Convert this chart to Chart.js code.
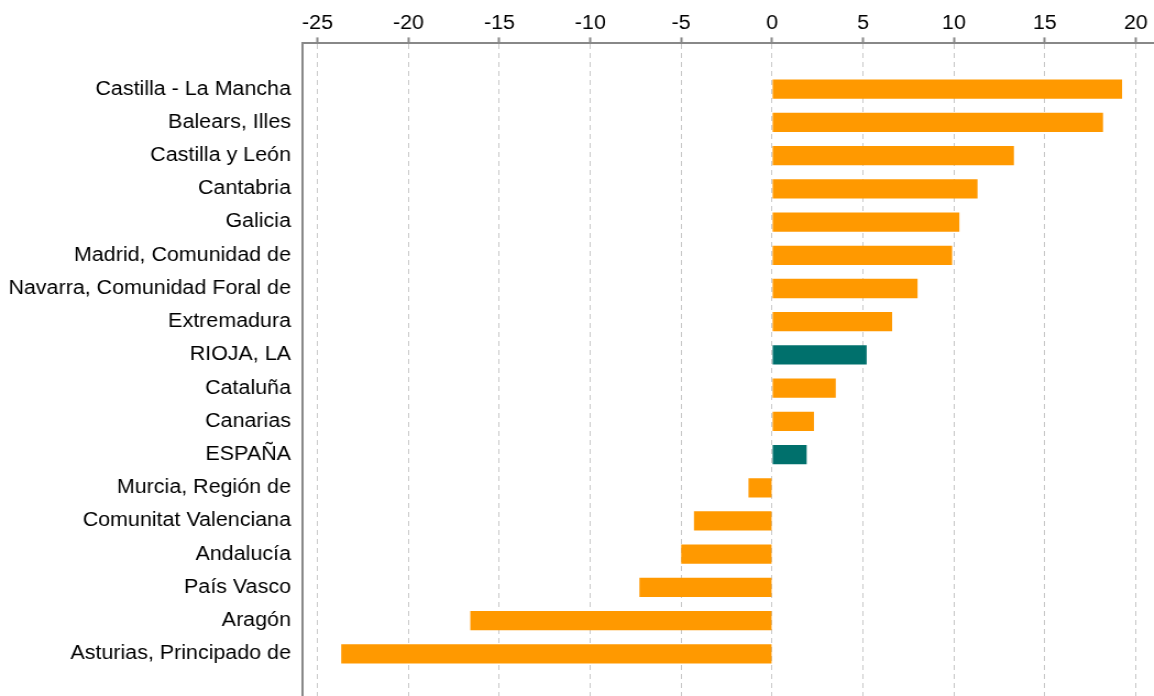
<!DOCTYPE html>
<html>
<head>
<meta charset="utf-8">
<script src="https://cdn.jsdelivr.net/npm/chart.js@4.4.1/dist/chart.umd.min.js"></script>
<style>
  html, body { margin: 0; padding: 0; background: #fff; overflow: hidden; }
  #wrap { position: absolute; left: 0; top: 0; width: 1049px; height: 696px;
          transform: scaleX(1.1); transform-origin: 0 0; }
</style>
</head>
<body>
<div id="wrap"><canvas id="c" width="1049" height="696"></canvas></div>
<script>
const categories = [
  'Castilla - La Mancha', 'Balears, Illes', 'Castilla y León', 'Cantabria', 'Galicia',
  'Madrid, Comunidad de', 'Navarra, Comunidad Foral de', 'Extremadura', 'RIOJA, LA',
  'Cataluña', 'Canarias', 'ESPAÑA', 'Murcia, Región de', 'Comunitat Valenciana',
  'Andalucía', 'País Vasco', 'Aragón', 'Asturias, Principado de'
];
const values = [19.25, 18.2, 13.3, 11.3, 10.3, 9.9, 8.0, 6.6, 5.2, 3.5, 2.3, 1.9, -1.3, -4.3, -5.0, -7.3, -16.6, -23.7];
const highlighted = ['RIOJA, LA', 'ESPAÑA'];
const xTickValues = [-25, -20, -15, -10, -5, 0, 5, 10, 15, 20];

const ORANGE = '#ff9900';
const TEAL = '#00706c';
const FONT = "'Liberation Sans', Arial, sans-serif";

function noPad(s) { s.paddingTop = 0; s.paddingBottom = 0; s.paddingLeft = 0; s.paddingRight = 0; }

new Chart(document.getElementById('c'), {
  type: 'bar',
  data: {
    datasets: [{
      data: values.map((v, i) => ({ x: v, y: i })),
      backgroundColor: ctx => highlighted.includes(categories[ctx.dataIndex]) ? TEAL : ORANGE,
      borderWidth: 0,
      barPercentage: 0.58,
      categoryPercentage: 1.0
    }]
  },
  options: {
    indexAxis: 'y',
    responsive: false,
    animation: false,
    devicePixelRatio: 1,
    layout: { padding: { top: 10, right: 0, bottom: 0, left: 0 } },
    plugins: { legend: { display: false }, tooltip: { enabled: false } },
    scales: {
      x: {
        type: 'linear',
        position: 'top',
        min: -25.86,
        max: 21.0,
        offset: false,
        afterBuildTicks: s => { s.ticks = xTickValues.map(v => ({ value: v })); },
        afterFit: noPad,
        ticks: {
          color: '#000',
          font: { family: FONT, size: 19.5 },
          padding: 2,
          maxRotation: 0
        },
        grid: {
          color: '#c8c8c8',
          lineWidth: 1,
          offset: false,
          drawTicks: true,
          tickLength: 6,
          tickColor: '#888',
          tickWidth: 2,
          tickBorderDash: []
        },
        border: { display: true, color: '#888', width: 2, dash: [5, 4] }
      },
      y: {
        type: 'linear',
        reverse: true,
        offset: false,
        min: -1.38,
        max: 18.27,
        afterBuildTicks: s => { s.ticks = categories.map((_, i) => ({ value: i })); },
        afterFit: s => { s.width = 274.5; noPad(s); },
        ticks: {
          color: '#000',
          font: { family: FONT, size: 19.5 },
          padding: 10,
          autoSkip: false,
          callback: v => categories[v]
        },
        grid: { display: false, drawTicks: false, offset: false },
        border: { display: true, color: '#888', width: 2 }
      }
    }
  }
});
</script>
</body>
</html>
